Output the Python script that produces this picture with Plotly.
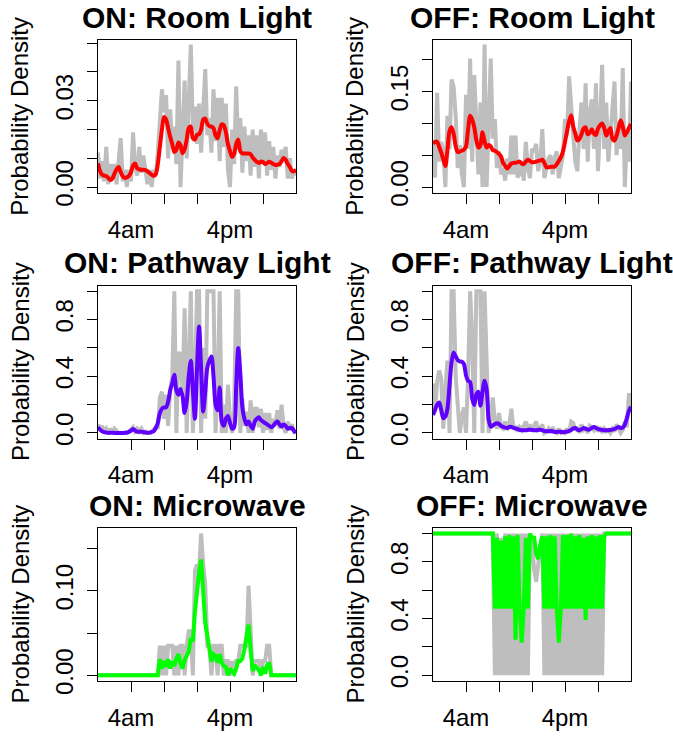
import plotly.graph_objects as go

W, H = 673, 743

# sampling times (hours after midnight), quarter-hour bins
hours = [i * 0.25 for i in range(97)]

x_tickvals = [4, 8, 12, 16, 20]
x_ticktext = ["4am", "", "", "4pm", ""]

# ---------------- ON: Room Light ----------------
room_on_gray = [0.012, 0.003, 0.009, 0.002, 0.014, 0.001, 0.008, 0.003, 0.008, 0.001,
                0.009, 0.017, 0.002, 0.006, 0.000, 0.006, 0.002, 0.019, 0.007, 0.004,
                0.014, 0.005, 0.011, 0.006, 0.001, 0.006, 0.000, 0.006, 0.004, 0.012,
                0.022, 0.034, 0.026, 0.032, 0.010, 0.027, 0.014, 0.021, 0.008, 0.044,
                0.000, 0.022, 0.037, 0.010, 0.027, 0.0495, 0.020, 0.028, 0.015, 0.029,
                0.012, 0.030, 0.041, 0.018, 0.024, 0.012, 0.034, 0.016, 0.031, 0.009,
                0.031, 0.014, 0.029, 0.006, 0.000, 0.020, 0.008, 0.035, 0.013, 0.024,
                0.005, 0.021, 0.009, 0.018, 0.004, 0.020, 0.007, 0.018, 0.003, 0.020,
                0.008, 0.019, 0.004, 0.016, 0.006, 0.014, 0.003, 0.011, 0.007, 0.013,
                0.010, 0.014, 0.003, 0.010, 0.003, 0.006, 0.004]
room_on_smooth = [0.0083, 0.0055, 0.0043, 0.0040, 0.0038, 0.0032, 0.0025, 0.0030, 0.0047, 0.0062,
                  0.0070, 0.0052, 0.0038, 0.0032, 0.0034, 0.0039, 0.0052, 0.0075, 0.0082, 0.0065,
                  0.0062, 0.0060, 0.0060, 0.0059, 0.0055, 0.0049, 0.0043, 0.0039, 0.0045, 0.0080,
                  0.0140, 0.0200, 0.0244, 0.0235, 0.0205, 0.0175, 0.0150, 0.0122, 0.0130, 0.0155,
                  0.0145, 0.0118, 0.0132, 0.0165, 0.0205, 0.0210, 0.0170, 0.0165, 0.0182, 0.0184,
                  0.0200, 0.0235, 0.0238, 0.0220, 0.0212, 0.0210, 0.0205, 0.0180, 0.0170, 0.0198,
                  0.0218, 0.0215, 0.0191, 0.0150, 0.0125, 0.0105, 0.0115, 0.0150, 0.0165, 0.0125,
                  0.0117, 0.0117, 0.0117, 0.0117, 0.0114, 0.0103, 0.0095, 0.0088, 0.0084, 0.0089,
                  0.0087, 0.0080, 0.0084, 0.0088, 0.0085, 0.0080, 0.0077, 0.0078, 0.0080, 0.0090,
                  0.0101, 0.0095, 0.0080, 0.0070, 0.0056, 0.0055, 0.0060]

# ---------------- OFF: Room Light ----------------
room_off_gray = [0.070, 0.015, 0.148, 0.040, 0.071, 0.055, 0.000, 0.112, 0.060, 0.169,
                 0.158, 0.112, 0.030, 0.066, 0.020, 0.000, 0.145, 0.060, 0.202, 0.040,
                 0.176, 0.086, 0.020, 0.133, 0.000, 0.224, 0.000, 0.100, 0.202, 0.076,
                 0.107, 0.030, 0.056, 0.020, 0.030, 0.010, 0.045, 0.020, 0.081, 0.020,
                 0.081, 0.015, 0.020, 0.040, 0.010, 0.071, 0.030, 0.014, 0.060, 0.056,
                 0.068, 0.025, 0.040, 0.091, 0.014, 0.030, 0.045, 0.050, 0.020, 0.045,
                 0.056, 0.014, 0.030, 0.050, 0.107, 0.081, 0.174, 0.120, 0.081, 0.040,
                 0.025, 0.090, 0.133, 0.060, 0.163, 0.040, 0.117, 0.138, 0.060, 0.163,
                 0.025, 0.100, 0.192, 0.060, 0.133, 0.040, 0.090, 0.135, 0.166, 0.050,
                 0.102, 0.060, 0.187, 0.000, 0.081, 0.040, 0.166]
room_off_smooth = [0.068, 0.071, 0.071, 0.063, 0.054, 0.043, 0.033, 0.058, 0.088, 0.094,
                   0.084, 0.064, 0.055, 0.056, 0.057, 0.059, 0.064, 0.090, 0.112, 0.106,
                   0.094, 0.074, 0.062, 0.066, 0.086, 0.072, 0.062, 0.066, 0.064, 0.058,
                   0.057, 0.055, 0.052, 0.048, 0.038, 0.033, 0.029, 0.033, 0.037, 0.038,
                   0.038, 0.039, 0.040, 0.037, 0.036, 0.040, 0.043, 0.041, 0.039, 0.039,
                   0.040, 0.041, 0.042, 0.043, 0.038, 0.031, 0.031, 0.032, 0.032, 0.032,
                   0.036, 0.041, 0.047, 0.056, 0.071, 0.088, 0.104, 0.113, 0.095, 0.084,
                   0.073, 0.076, 0.083, 0.092, 0.094, 0.083, 0.085, 0.091, 0.084, 0.082,
                   0.092, 0.097, 0.100, 0.093, 0.081, 0.088, 0.093, 0.076, 0.073, 0.081,
                   0.093, 0.105, 0.095, 0.081, 0.086, 0.093, 0.099]

# ---------------- ON: Pathway Light ----------------
path_on_gray = [0.06, 0.03, 0.05, 0.01, 0.03, 0.00, 0.03, 0.00, 0.03, 0.01,
                0.00, 0.00, 0.00, 0.00, 0.00, 0.01, 0.03, 0.04, 0.01, 0.03,
                0.01, 0.03, 0.00, 0.01, 0.00, 0.00, 0.01, 0.03, 0.04, 0.03,
                0.25, 0.29, 0.10, 0.27, 0.05, 0.30, 0.40, 1.00, 0.00, 0.57,
                0.55, 0.30, 0.88, 0.00, 0.45, 1.00, 0.00, 0.35, 1.00, 1.00,
                0.00, 0.60, 0.10, 1.00, 1.00, 1.00, 1.00, 0.00, 0.30, 1.00,
                0.00, 0.20, 0.00, 0.34, 0.10, 0.00, 0.15, 1.00, 1.00, 0.00,
                0.24, 0.05, 0.15, 0.00, 0.23, 0.00, 0.17, 0.17, 0.04, 0.17,
                0.00, 0.14, 0.02, 0.14, 0.00, 0.10, 0.05, 0.16, 0.03, 0.20,
                0.04, 0.00, 0.08, 0.02, 0.06, 0.01, 0.02]
path_on_smooth = [0.040, 0.023, 0.012, 0.005, 0.003, 0.000, 0.001, 0.001, 0.000, 0.000,
                  0.000, 0.000, 0.000, 0.001, 0.003, 0.008, 0.015, 0.028, 0.016, 0.008,
                  0.009, 0.008, 0.006, 0.003, 0.001, 0.002, 0.006, 0.012, 0.035, 0.070,
                  0.140, 0.170, 0.180, 0.180, 0.220, 0.300, 0.350, 0.410, 0.300, 0.270,
                  0.310, 0.260, 0.140, 0.220, 0.400, 0.510, 0.300, 0.100, 0.450, 0.750,
                  0.450, 0.150, 0.290, 0.460, 0.510, 0.540, 0.400, 0.200, 0.160, 0.320,
                  0.080, 0.050, 0.100, 0.120, 0.070, 0.030, 0.040, 0.330, 0.600, 0.420,
                  0.180, 0.100, 0.060, 0.080, 0.050, 0.030, 0.080, 0.100, 0.110, 0.090,
                  0.080, 0.070, 0.060, 0.050, 0.040, 0.050, 0.070, 0.080, 0.060, 0.045,
                  0.060, 0.050, 0.030, 0.035, 0.035, 0.015, 0.000]

# ---------------- OFF: Pathway Light ----------------
path_off_gray = [0.35, 0.15, 0.36, 0.44, 0.38, 0.03, 0.30, 0.51, 0.00, 1.00,
                 1.00, 0.40, 0.20, 0.00, 0.12, 0.18, 0.00, 0.40, 1.00, 0.68,
                 0.00, 1.00, 1.00, 1.00, 0.00, 1.00, 0.51, 0.00, 0.10, 0.25,
                 0.08, 0.03, 0.14, 0.04, 0.03, 0.08, 0.02, 0.06, 0.17, 0.03,
                 0.05, 0.01, 0.04, 0.02, 0.05, 0.08, 0.03, 0.06, 0.01, 0.04,
                 0.08, 0.02, 0.03, 0.06, 0.00, 0.01, 0.03, 0.00, 0.04, 0.01,
                 0.00, 0.03, 0.00, 0.01, 0.00, 0.03, 0.00, 0.08, 0.07, 0.02,
                 0.04, 0.00, 0.06, 0.02, 0.03, 0.00, 0.05, 0.04, 0.02, 0.05,
                 0.01, 0.04, 0.00, 0.03, 0.01, 0.02, 0.00, 0.03, 0.01, 0.06,
                 0.03, 0.00, 0.02, 0.08, 0.04, 0.28, 0.18]
path_off_smooth = [0.127, 0.164, 0.200, 0.215, 0.160, 0.104, 0.116, 0.170, 0.335, 0.500,
                   0.567, 0.540, 0.514, 0.505, 0.502, 0.486, 0.405, 0.368, 0.359, 0.243,
                   0.197, 0.270, 0.290, 0.192, 0.290, 0.368, 0.310, 0.093, 0.044, 0.053,
                   0.063, 0.069, 0.063, 0.049, 0.042, 0.037, 0.035, 0.042, 0.042, 0.035,
                   0.030, 0.028, 0.021, 0.019, 0.019, 0.019, 0.021, 0.023, 0.021, 0.019,
                   0.019, 0.021, 0.023, 0.019, 0.014, 0.012, 0.012, 0.014, 0.012, 0.007,
                   0.007, 0.009, 0.007, 0.005, 0.007, 0.009, 0.014, 0.021, 0.032, 0.035,
                   0.023, 0.019, 0.025, 0.035, 0.030, 0.023, 0.025, 0.035, 0.042, 0.035,
                   0.028, 0.023, 0.021, 0.019, 0.019, 0.019, 0.021, 0.023, 0.028, 0.035,
                   0.042, 0.035, 0.037, 0.058, 0.104, 0.155, 0.185]

# ---------------- ON: Microwave ----------------
micro_on_gray = [0.000, 0.000, 0.000, 0.000, 0.000, 0.000, 0.000, 0.000, 0.000, 0.000,
                 0.000, 0.000, 0.000, 0.000, 0.000, 0.000, 0.000, 0.000, 0.000, 0.000,
                 0.000, 0.000, 0.000, 0.000, 0.000, 0.000, 0.000, 0.000, 0.000, 0.000,
                 0.035, 0.000, 0.035, 0.000, 0.035, 0.035, 0.035, 0.000, 0.035, 0.000,
                 0.035, 0.035, 0.000, 0.035, 0.052, 0.052, 0.000, 0.124, 0.131, 0.124,
                 0.168, 0.131, 0.108, 0.035, 0.035, 0.000, 0.035, 0.035, 0.000, 0.035,
                 0.035, 0.000, 0.017, 0.017, 0.000, 0.017, 0.000, 0.017, 0.017, 0.035,
                 0.035, 0.035, 0.035, 0.106, 0.052, 0.000, 0.017, 0.017, 0.017, 0.000,
                 0.017, 0.017, 0.035, 0.035, 0.000, 0.000, 0.000, 0.000, 0.000, 0.000,
                 0.000, 0.000, 0.000, 0.000, 0.000, 0.000, 0.000]
micro_on_smooth = [0.000, 0.000, 0.000, 0.000, 0.000, 0.000, 0.000, 0.000, 0.000, 0.000,
                   0.000, 0.000, 0.000, 0.000, 0.000, 0.000, 0.000, 0.000, 0.000, 0.000,
                   0.000, 0.000, 0.000, 0.000, 0.000, 0.000, 0.000, 0.000, 0.000, 0.000,
                   0.019, 0.008, 0.017, 0.010, 0.019, 0.008, 0.017, 0.011, 0.020, 0.025,
                   0.014, 0.008, 0.018, 0.023, 0.028, 0.044, 0.040, 0.075, 0.105, 0.122,
                   0.137, 0.090, 0.062, 0.047, 0.027, 0.016, 0.025, 0.023, 0.015, 0.025,
                   0.015, 0.011, 0.010, 0.000, 0.008, 0.004, 0.002, 0.008, 0.017, 0.017,
                   0.020, 0.031, 0.044, 0.060, 0.030, 0.005, 0.012, 0.009, 0.006, 0.000,
                   0.010, 0.002, 0.012, 0.015, 0.000, 0.000, 0.000, 0.000, 0.000, 0.000,
                   0.000, 0.000, 0.000, 0.000, 0.000, 0.000, 0.000]

# ---------------- OFF: Microwave ----------------
micro_off_gray = [1.00, 1.00, 1.00, 1.00, 1.00, 1.00, 1.00, 1.00, 1.00, 1.00,
                  1.00, 1.00, 1.00, 1.00, 1.00, 1.00, 1.00, 1.00, 1.00, 1.00,
                  1.00, 1.00, 1.00, 1.00, 1.00, 1.00, 1.00, 1.00, 1.00, 1.00,
                  0.00, 1.00, 0.00, 0.97, 0.00, 1.00, 0.00, 1.00, 0.00, 1.00,
                  0.00, 1.00, 0.00, 1.00, 0.00, 1.00, 0.00, 1.00, 0.95, 0.75,
                  0.66, 0.80, 0.90, 1.00, 0.00, 1.00, 0.00, 1.00, 0.00, 1.00,
                  0.00, 1.00, 0.00, 1.00, 0.00, 1.00, 0.00, 1.00, 0.00, 1.00,
                  0.00, 1.00, 0.00, 1.00, 0.00, 1.00, 0.00, 1.00, 0.00, 1.00,
                  0.00, 1.00, 0.00, 1.00, 1.00, 1.00, 1.00, 1.00, 1.00, 1.00,
                  1.00, 1.00, 1.00, 1.00, 1.00, 1.00, 1.00]
micro_off_smooth = [1.00, 1.00, 1.00, 1.00, 1.00, 1.00, 1.00, 1.00, 1.00, 1.00,
                    1.00, 1.00, 1.00, 1.00, 1.00, 1.00, 1.00, 1.00, 1.00, 1.00,
                    1.00, 1.00, 1.00, 1.00, 1.00, 1.00, 1.00, 1.00, 1.00, 1.00,
                    0.47, 0.97, 0.47, 0.95, 0.47, 0.98, 0.47, 0.99, 0.47, 0.98,
                    0.25, 0.99, 0.47, 0.23, 0.47, 0.97, 0.47, 1.00, 0.96, 0.98,
                    0.86, 0.82, 0.92, 0.98, 0.47, 0.98, 0.47, 0.99, 0.47, 0.98,
                    0.47, 0.23, 0.47, 0.99, 0.47, 0.99, 0.47, 1.00, 0.47, 0.98,
                    0.47, 0.99, 0.47, 0.97, 0.39, 0.98, 0.47, 0.99, 0.47, 0.98,
                    0.47, 0.99, 0.47, 0.98, 1.00, 1.00, 1.00, 1.00, 1.00, 1.00,
                    1.00, 1.00, 1.00, 1.00, 1.00, 1.00, 1.00]

titles = ["ON: Room Light", "OFF: Room Light",
          "ON: Pathway Light", "OFF: Pathway Light",
          "ON: Microwave", "OFF: Microwave"]

GRAY = "#BEBEBE"
RED = "#FF0000"
PURPLE = "#6000FF"
GREEN = "#00FF00"

panels = [
    dict(gray=room_on_gray, smooth=room_on_smooth, color=RED, shape="spline",
         yrange=[-0.00215, 0.05104], yt=[0, 0.01, 0.02, 0.03, 0.04, 0.05],
         ytt=["0.00", "", "", "0.03", "", ""]),
    dict(gray=room_off_gray, smooth=room_off_smooth, color=RED, shape="spline",
         yrange=[-0.0098, 0.2308], yt=[0, 0.05, 0.10, 0.15, 0.20],
         ytt=["0.00", "", "", "0.15", ""]),
    dict(gray=path_on_gray, smooth=path_on_smooth, color=PURPLE, shape="spline",
         yrange=[-0.04, 1.04], yt=[0, 0.2, 0.4, 0.6, 0.8, 1.0],
         ytt=["0.0", "", "0.4", "", "0.8", ""]),
    dict(gray=path_off_gray, smooth=path_off_smooth, color=PURPLE, shape="spline",
         yrange=[-0.04, 1.04], yt=[0, 0.2, 0.4, 0.6, 0.8, 1.0],
         ytt=["0.0", "", "0.4", "", "0.8", ""]),
    dict(gray=micro_on_gray, smooth=micro_on_smooth, color=GREEN, shape="linear",
         yrange=[-0.0066, 0.1744], yt=[0, 0.05, 0.10, 0.15],
         ytt=["0.00", "", "0.10", ""]),
    dict(gray=micro_off_gray, smooth=micro_off_smooth, color=GREEN, shape="linear",
         yrange=[-0.04, 1.04], yt=[0, 0.2, 0.4, 0.6, 0.8, 1.0],
         ytt=["0.0", "", "0.4", "", "0.8", ""]),
]

col_px = [(98, 296), (433, 631)]
row_px = [(41, 197), (291, 447), (538, 694)]

FONT = "Liberation Sans, Arial, Helvetica, sans-serif"

fig = go.Figure()
layout = dict(width=W, height=H, margin=dict(l=0, r=0, t=0, b=0),
              paper_bgcolor="white", plot_bgcolor="white", showlegend=False,
              font=dict(family=FONT, color="black", size=24))
annotations = []

for k, p in enumerate(panels):
    r, c = divmod(k, 2)
    x0, x1 = col_px[c]
    y0, y1 = row_px[r]
    sfx = "" if k == 0 else str(k + 1)
    xa, ya = "x" + sfx, "y" + sfx
    fig.add_trace(go.Scatter(x=hours, y=p["gray"], mode="lines", xaxis=xa, yaxis=ya,
                             line=dict(color=GRAY, width=4), hoverinfo="skip"))
    fig.add_trace(go.Scatter(x=hours, y=p["smooth"], mode="lines", xaxis=xa, yaxis=ya,
                             line=dict(color=p["color"], width=4, shape=p["shape"],
                                       smoothing=0.8 if p["shape"] == "spline" else None),
                             hoverinfo="skip"))
    common = dict(showline=True, mirror=True, linecolor="black", linewidth=1,
                  ticks="outside", ticklen=10, tickwidth=1, tickcolor="black",
                  showgrid=False, zeroline=False, tickfont=dict(size=24, family=FONT))
    layout["xaxis" + sfx] = dict(domain=[x0 / W, x1 / W], anchor=ya, range=[0, 24],
                                 tickmode="array", tickvals=x_tickvals, ticktext=x_ticktext,
                                 ticklabelstandoff=5, **common)
    layout["yaxis" + sfx] = dict(domain=[1 - y1 / H, 1 - y0 / H], anchor=xa,
                                 range=p["yrange"], tickmode="array", tickvals=p["yt"],
                                 ticktext=p["ytt"], tickangle=-90, ticklabelstandoff=4,
                                 **common)
    annotations.append(dict(text="<b>" + titles[k] + "</b>", xref="paper", yref="paper",
                            x=(x0 + x1) / 2 / W, y=1 - (y0 - 23) / H,
                            xanchor="center", yanchor="middle", showarrow=False,
                            font=dict(size=30, family=FONT, color="black")))
    annotations.append(dict(text="Probability Density", xref="paper", yref="paper",
                            x=(x0 - 78) / W, y=1 - ((y0 + y1) / 2) / H,
                            xanchor="center", yanchor="middle", showarrow=False,
                            textangle=-90,
                            font=dict(size=24, family=FONT, color="black")))

layout["annotations"] = annotations
fig.update_layout(**layout)
fig.write_html("out.html")
